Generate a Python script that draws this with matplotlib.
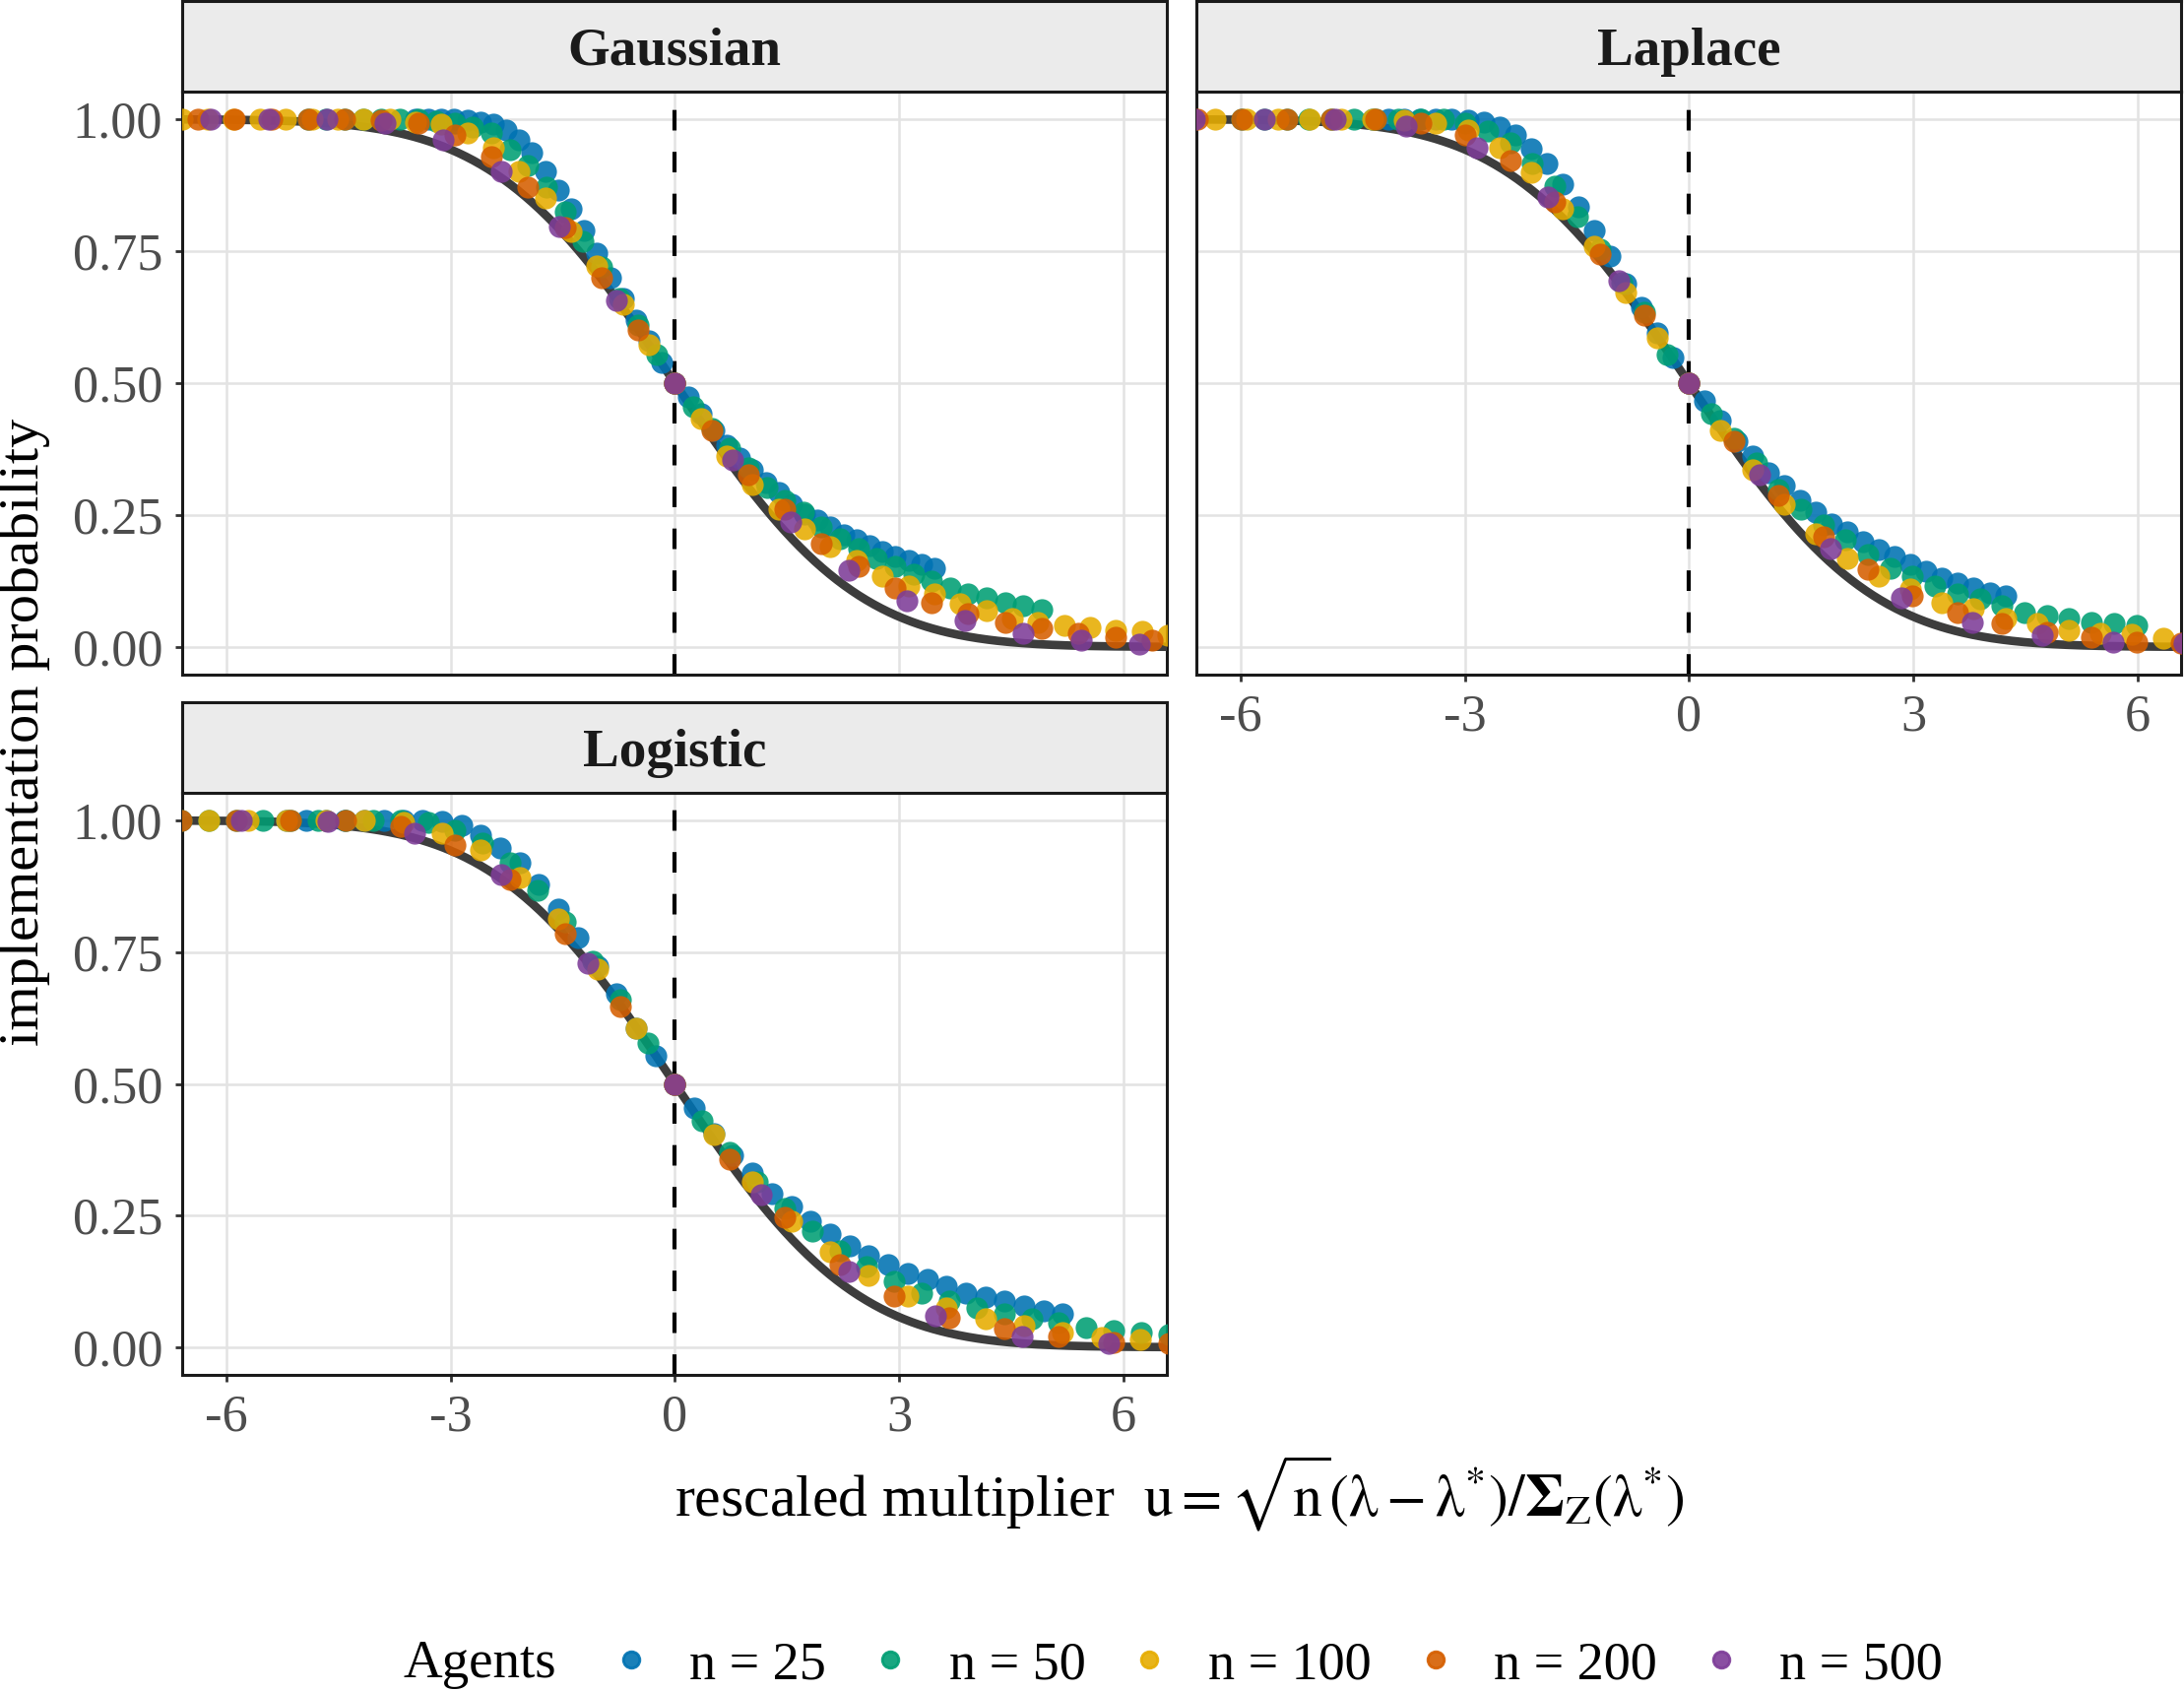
import numpy as np
import matplotlib.pyplot as plt
from matplotlib.lines import Line2D
from math import erfc, sqrt

plt.rcParams['font.family'] = ['Liberation Serif', 'DejaVu Serif']
plt.rcParams['mathtext.fontset'] = 'stix'

# sample sizes and colours of the agents
agents = [25, 50, 100, 200, 500]
agent_labels = ['n = 25', 'n = 50', 'n = 100', 'n = 200', 'n = 500']
agent_colors = ['#0072B2', '#009E73', '#E6AC00', '#D55E00', '#7D3C98']

panels = ['Gaussian', 'Laplace', 'Logistic']
# half-width of the u grid for n = 25 in each panel (21 points per side, same for all n in lambda)
u_range_25 = {'Gaussian': 3.47, 'Laplace': 4.23, 'Logistic': 5.19}
# scale of the limiting curve
limit_sigma = 1.9

# implementation probability, grid points k = -K..K (only those inside the window)
gauss_25 = [1.0, 1.0, 1.0, 1.0, 0.998, 0.995, 0.99, 0.98, 0.961, 0.937, 0.902, 0.865, 0.831,
            0.79, 0.747, 0.70, 0.66, 0.62, 0.58, 0.54, 0.5,
            0.473, 0.442, 0.41, 0.383, 0.358, 0.336, 0.311, 0.293, 0.271, 0.252, 0.24, 0.228,
            0.212, 0.203, 0.192, 0.181, 0.172, 0.164, 0.156, 0.149]
gauss_50 = [1.0, 1.0, 1.0, 1.0, 1.0, 1.0, 1.0, 0.997, 0.993, 0.985, 0.974, 0.943, 0.912, 0.871,
            0.825, 0.769, 0.72, 0.66, 0.61, 0.555, 0.5,
            0.455, 0.415, 0.377, 0.34, 0.302, 0.277, 0.256, 0.228, 0.206, 0.187, 0.168, 0.153,
            0.1375, 0.125, 0.111, 0.101, 0.093, 0.083, 0.079, 0.070]
gauss_100 = [1.0, 1.0, 1.0, 1.0, 1.0, 1.0, 1.0, 1.0, 1.0, 0.995, 0.99, 0.974, 0.946, 0.902,
             0.85, 0.787, 0.722, 0.65, 0.573, 0.5,
             0.433, 0.361, 0.308, 0.262, 0.224, 0.19, 0.164, 0.134, 0.116, 0.10, 0.0815,
             0.068, 0.0535, 0.047, 0.041, 0.037, 0.032, 0.029, 0.023]
gauss_200 = [1.0, 1.0, 1.0, 1.0, 1.0, 0.998, 0.993, 0.971, 0.93, 0.871, 0.794, 0.70, 0.60, 0.5,
             0.411, 0.327, 0.262, 0.196, 0.153, 0.1125, 0.0845, 0.064, 0.047, 0.035, 0.026,
             0.019, 0.013]
gauss_500 = [1.0, 1.0, 1.0, 0.993, 0.961, 0.902, 0.797, 0.657, 0.5,
             0.355, 0.237, 0.145, 0.0877, 0.05, 0.0255, 0.013, 0.0056]

laplace_25 = [1.0, 1.0, 1.0, 1.0, 1.0, 1.0, 0.998, 0.995, 0.986, 0.971, 0.945, 0.916, 0.877,
              0.835, 0.789, 0.741, 0.688, 0.644, 0.595, 0.548, 0.5,
              0.467, 0.43, 0.389, 0.361, 0.33, 0.305, 0.277, 0.256, 0.234, 0.218, 0.20, 0.185,
              0.172, 0.156, 0.1437, 0.131, 0.122, 0.112, 0.103, 0.097]
laplace_50 = [1.0, 1.0, 1.0, 1.0, 1.0, 1.0, 1.0, 1.0, 1.0, 1.0, 0.993, 0.977, 0.955, 0.916,
              0.874, 0.815, 0.753, 0.69, 0.635, 0.554, 0.5,
              0.442, 0.395, 0.349, 0.299, 0.262, 0.231, 0.203, 0.175, 0.15, 0.134, 0.116, 0.10,
              0.091, 0.078, 0.066, 0.060, 0.0535, 0.047, 0.0445, 0.041]
laplace_100 = [1.0, 1.0, 1.0, 1.0, 1.0, 1.0, 0.999, 0.993, 0.98, 0.946, 0.899, 0.831, 0.759,
               0.672, 0.585, 0.5,
               0.411, 0.336, 0.271, 0.215, 0.168, 0.134, 0.1095, 0.0845, 0.072, 0.0535,
               0.0445, 0.032, 0.026, 0.0235, 0.016]
laplace_200 = [1.0, 1.0, 1.0, 1.0, 1.0, 0.993, 0.971, 0.921, 0.843, 0.744, 0.629, 0.5,
               0.389, 0.287, 0.209, 0.147, 0.097, 0.066, 0.0445, 0.0285, 0.019, 0.01, 0.007]
laplace_500 = [1.0, 1.0, 1.0, 0.988, 0.946, 0.853, 0.694, 0.5,
               0.327, 0.187, 0.094, 0.047, 0.0224, 0.01, 0.0075]

logistic_25 = [1.0, 1.0, 1.0, 1.0, 1.0, 1.0, 1.0, 1.0, 0.998, 0.991, 0.972, 0.947, 0.919,
               0.879, 0.832, 0.777, 0.724, 0.671, 0.606, 0.553, 0.5,
               0.454, 0.405, 0.364, 0.33, 0.292, 0.268, 0.24, 0.215, 0.193, 0.1745, 0.156,
               0.14, 0.128, 0.1155, 0.103, 0.095, 0.0875, 0.0784, 0.069, 0.063]
logistic_50 = [1.0, 1.0, 1.0, 1.0, 1.0, 1.0, 1.0, 1.0, 1.0, 0.996, 0.981, 0.957, 0.919, 0.867,
               0.808, 0.733, 0.659, 0.578, 0.5,
               0.429, 0.37, 0.314, 0.264, 0.221, 0.184, 0.153, 0.125, 0.103, 0.0875, 0.075,
               0.063, 0.0534, 0.047, 0.038, 0.032, 0.028, 0.025]
logistic_100 = [1.0, 1.0, 1.0, 1.0, 1.0, 0.996, 0.975, 0.944, 0.891, 0.814, 0.718, 0.606, 0.5,
                0.404, 0.314, 0.24, 0.181, 0.137, 0.098, 0.075, 0.0534, 0.041, 0.028, 0.019,
                0.015]
logistic_200 = [1.0, 1.0, 1.0, 1.0, 0.988, 0.953, 0.888, 0.786, 0.646, 0.5,
                0.357, 0.246, 0.156, 0.097, 0.0566, 0.035, 0.021, 0.01, 0.007]
logistic_500 = [1.0, 0.999, 0.975, 0.898, 0.729, 0.5, 0.289, 0.143, 0.06, 0.021, 0.007]

series = {
    'Gaussian': [gauss_25, gauss_50, gauss_100, gauss_200, gauss_500],
    'Laplace': [laplace_25, laplace_50, laplace_100, laplace_200, laplace_500],
    'Logistic': [logistic_25, logistic_50, logistic_100, logistic_200, logistic_500],
}

x_ticks = [-6, -3, 0, 3, 6]
x_tick_labels = ['-6', '-3', '0', '3', '6']
y_ticks = [0.0, 0.25, 0.5, 0.75, 1.0]
y_tick_labels = ['0.00', '0.25', '0.50', '0.75', '1.00']

W, H = 2218, 1718
fig = plt.figure(figsize=(W / 200, H / 200), dpi=200)


def px_axes(x0, y0, x1, y1):
    'axes from pixel box (top-left origin)'
    return fig.add_axes([x0 / W, 1 - y1 / H, (x1 - x0) / W, (y1 - y0) / H])


def u_grid(name, n, count):
    K = (count - 1) // 2
    step = u_range_25[name] * sqrt(n / 25) / 20
    return np.arange(-K, K + 1) * step


layout = {
    'Gaussian': (185, 93, 1185, 685, True, False),
    'Laplace': (1215, 93, 2215, 685, False, True),
    'Logistic': (185, 805, 1185, 1396, True, True),
}

u_line = np.linspace(-6.6, 6.6, 400)
p_line = [0.5 * erfc(u / (limit_sigma * sqrt(2))) for u in u_line]

for name in panels:
    x0, y0, x1, y1, show_y, show_x = layout[name]
    ax = px_axes(x0, y0, x1, y1)
    ax.set_xlim(-6.59, 6.58)
    ax.set_ylim(-0.0525, 1.0525)
    ax.grid(True, color='#E3E3E3', lw=0.9)
    ax.set_axisbelow(True)
    ax.axvline(0, color='black', lw=1.5, ls=(0, (5.0, 5.2)), zorder=2)
    ax.plot(u_line, p_line, color='#3D3D3D', lw=3.1, zorder=3)
    for n, vals, col in zip(agents, series[name], agent_colors):
        ax.scatter(u_grid(name, n, len(vals)), vals, s=64, color=col, alpha=0.88,
                   linewidths=0, zorder=4)
    ax.set_xticks(x_ticks)
    ax.set_xticklabels(x_tick_labels)
    ax.set_yticks(y_ticks)
    ax.set_yticklabels(y_tick_labels)
    ax.tick_params(axis='both', length=2.6, width=1.0, color='#333333', labelcolor='#4D4D4D',
                   labelsize=18.8, pad=4.5)
    ax.tick_params(axis='y', left=show_y, labelleft=show_y)
    ax.tick_params(axis='x', bottom=show_x, labelbottom=show_x)
    for sp in ax.spines.values():
        sp.set_color('#1A1A1A')
        sp.set_linewidth(1.1)

    # facet strip
    st = px_axes(x0, y0 - 92, x1, y0)
    st.set_facecolor('#EBEBEB')
    st.set_xticks([])
    st.set_yticks([])
    for sp in st.spines.values():
        sp.set_color('#1A1A1A')
        sp.set_linewidth(1.1)
    st.text(0.5, 0.44, name, ha='center', va='center', fontsize=19.8, fontweight='bold',
            color='#1A1A1A', transform=st.transAxes)

fig.text(25 / W, 1 - 743 / H, 'implementation probability', rotation=90,
         ha='center', va='center', fontsize=21)
fig.text(1198 / W, 1 - 1516 / H,
         r'rescaled multiplier  $\mathrm{u} = \sqrt{\mathrm{n}}\left(\mathrm{λ} - \mathrm{λ}^{*}\right)'
         r'/\mathbf{\Sigma}_{\mathrm{Z}}\left(\mathrm{λ}^{*}\right)$',
         ha='center', va='center', fontsize=21.5)

handles = [Line2D([], [], ls='', marker='o', markersize=6, color=c, alpha=0.9) for c in agent_colors]
fig.text(410 / W, 1 - 1690 / H, 'Agents', ha='left', va='center', fontsize=19.8)
fig.legend(handles, agent_labels, loc='center', bbox_to_anchor=(1296 / W, 1 - 1691 / H),
           ncol=5, frameon=False, fontsize=19.5, handlelength=0.8, handletextpad=0.7,
           columnspacing=0.8, borderpad=0.2)

fig.savefig('out.png', dpi=200)
